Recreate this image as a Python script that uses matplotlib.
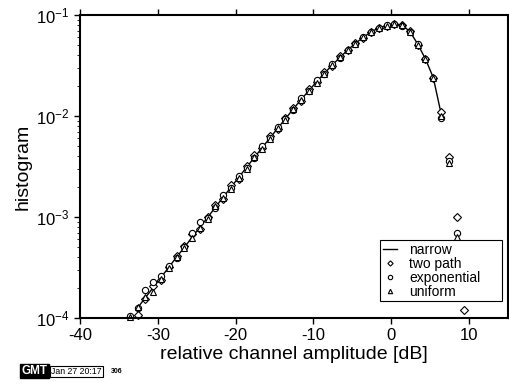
import numpy as np
import matplotlib
matplotlib.use("Agg")
import matplotlib.pyplot as plt
from matplotlib.ticker import LogLocator, LogFormatterMathtext, NullFormatter

plt.rcParams['font.family'] = ['Liberation Sans', 'DejaVu Sans']
plt.rcParams['mathtext.fontset'] = 'custom'
plt.rcParams['mathtext.rm'] = 'Liberation Sans'
plt.rcParams['mathtext.it'] = 'Liberation Sans'
plt.rcParams['axes.unicode_minus'] = False

# bin centres [dB]
x_narrow = np.arange(-32.6, 6.5, 1.0)
x_mark = np.arange(-33.6, 9.5, 1.0)

narrow = [1.26e-4, 1.59e-4, 2.0e-4, 2.52e-4, 3.17e-4, 4.0e-4, 5.0e-4, 6.3e-4,
          7.9e-4, 9.9e-4, 1.25e-3, 1.57e-3, 1.97e-3, 2.47e-3, 3.1e-3, 3.88e-3,
          4.85e-3, 6.05e-3, 7.55e-3, 9.4e-3, 1.17e-2, 1.45e-2, 1.78e-2, 2.18e-2,
          2.65e-2, 3.18e-2, 3.8e-2, 4.5e-2, 5.25e-2, 6.0e-2, 6.8e-2, 7.45e-2,
          7.85e-2, 8.1e-2, 7.95e-2, 6.85e-2, 5.15e-2, 3.66e-2, 2.4e-2, 1.06e-2]

two_path = [np.nan, 1.07e-4, 1.53e-4, 2.05e-4, 2.4e-4, 3.2e-4, 4.1e-4, 5.1e-4,
            6.8e-4, 7.6e-4, 1.0e-3, 1.3e-3, 1.52e-3, 2.05e-3, 2.4e-3, 3.2e-3,
            4.1e-3, 4.8e-3, 6.3e-3, 7.4e-3, 9.6e-3, 1.2e-2, 1.42e-2, 1.85e-2,
            2.15e-2, 2.7e-2, 3.15e-2, 3.9e-2, 4.45e-2, 5.3e-2, 5.95e-2, 6.85e-2,
            7.4e-2, 7.8e-2, 8.05e-2, 8.0e-2, 6.9e-2, 5.1e-2, 3.7e-2, 2.4e-2,
            1.1e-2, 3.95e-3, 1.0e-3, 1.2e-4]

exponential = [1.05e-4, 1.25e-4, 1.9e-4, 2.25e-4, 2.6e-4, 3.3e-4, 3.9e-4, 5.0e-4,
               7.0e-4, 8.9e-4, 9.7e-4, 1.24e-3, 1.65e-3, 1.95e-3, 2.55e-3, 3.05e-3,
               3.85e-3, 5.1e-3, 6.0e-3, 7.8e-3, 9.3e-3, 1.15e-2, 1.5e-2, 1.75e-2,
               2.25e-2, 2.6e-2, 3.25e-2, 3.75e-2, 4.55e-2, 5.2e-2, 6.05e-2, 6.75e-2,
               7.5e-2, 7.9e-2, 8.1e-2, 7.85e-2, 6.8e-2, 5.15e-2, 3.65e-2, 2.35e-2,
               9.5e-3, 3.55e-3, 7.0e-4, np.nan]

uniform = [1.02e-4, 1.28e-4, 1.6e-4, 1.8e-4, 2.45e-4, 3.15e-4, 4.05e-4, 4.9e-4,
           6.2e-4, 7.7e-4, 9.6e-4, 1.27e-3, 1.55e-3, 1.9e-3, 2.45e-3, 3.0e-3,
           3.95e-3, 4.75e-3, 5.9e-3, 7.6e-3, 9.2e-3, 1.16e-2, 1.43e-2, 1.78e-2,
           2.12e-2, 2.62e-2, 3.2e-2, 3.8e-2, 4.5e-2, 5.2e-2, 6.0e-2, 6.8e-2,
           7.45e-2, 7.85e-2, 8.1e-2, 7.9e-2, 6.8e-2, 5.1e-2, 3.65e-2, 2.4e-2,
           1.0e-2, 3.4e-3, 6.4e-4, np.nan]

fig = plt.figure(figsize=(5.10, 3.84), dpi=100)
ax = fig.add_axes([0.157, 0.172, 0.839, 0.789])

ax.plot(x_narrow, narrow, 'k-', lw=1.0, label='narrow')
mk = dict(ls='none', mfc='white', mec='black', mew=0.8, ms=4.5, clip_on=False)
ax.plot(x_mark, two_path, marker='D', label='two path', **dict(mk, ms=3.8))
ax.plot(x_mark, exponential, marker='o', label='exponential', **mk)
ax.plot(x_mark, uniform, marker='^', label='uniform', **mk)

ax.set_yscale('log')
ax.set_xlim(-40, 15)
ax.set_ylim(1e-4, 1e-1)
ax.set_xticks([-40, -30, -20, -10, 0, 10])
ax.yaxis.set_major_locator(LogLocator(base=10, numticks=10))
ax.yaxis.set_major_formatter(LogFormatterMathtext())
ax.yaxis.set_minor_locator(LogLocator(base=10, subs=np.arange(2, 10), numticks=10))
ax.yaxis.set_minor_formatter(NullFormatter())

ax.tick_params(which='both', direction='out', top=True, right=True, labelsize=12)
ax.tick_params(which='major', length=4, width=1)
ax.tick_params(which='minor', length=2, width=0.6)
for s in ax.spines.values():
    s.set_linewidth(1.5)

ax.set_xlabel('relative channel amplitude [dB]', fontsize=14, labelpad=2)
ax.set_ylabel('histogram', fontsize=14, labelpad=3)

leg = ax.legend(loc='lower left', bbox_to_anchor=(0.701, 0.055, 0.285, 0.19),
                mode='expand', fontsize=10,
                frameon=True, fancybox=False, edgecolor='black', framealpha=1,
                handlelength=1.0, handletextpad=0.9, borderpad=0.2,
                labelspacing=0.0, markerscale=0.7, borderaxespad=0.0)
leg.get_frame().set_linewidth(0.8)

# GMT time stamp
fig.text(0.042, 0.026, 'GMT', fontsize=8.5, color='white', weight='bold',
         bbox=dict(boxstyle='square,pad=0.12', fc='black', ec='black'))
fig.text(0.100, 0.026, 'Jan 27 20:17', fontsize=6.3, color='black',
         bbox=dict(boxstyle='square,pad=0.15', fc='white', ec='black', lw=0.8))
fig.text(0.218, 0.028, '306', fontsize=5, color='black', weight='bold')

fig.savefig('out.png', dpi=100)
